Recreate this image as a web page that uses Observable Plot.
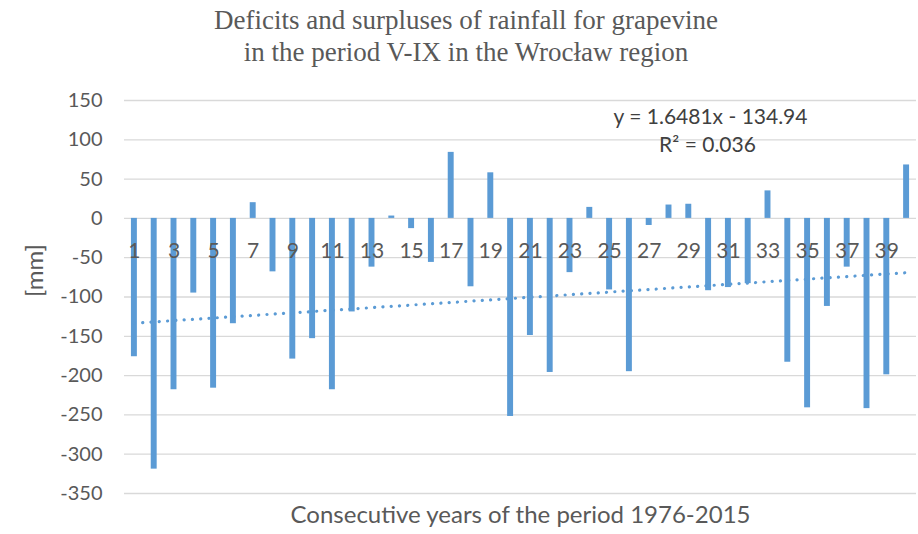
<!DOCTYPE html>
<html>
<head>
<meta charset="utf-8">
<script src="https://cdn.jsdelivr.net/npm/d3@7"></script>
<script src="https://cdn.jsdelivr.net/npm/@observablehq/plot@0.6"></script>
<style>
  html, body { margin: 0; padding: 0; background: #fff; }
  #wrap { position: relative; width: 918px; height: 534px; background: #fff; overflow: hidden; }
  #title { position: absolute; top: 4px; left: 0; width: 932px; text-align: center;
           font-family: "Liberation Serif", "DejaVu Serif", serif; font-size: 27px; line-height: 32px;
           color: #595959; }
  #chart { position: absolute; top: 80px; left: 0; }
  #chart svg { overflow: visible; }
</style>
</head>
<body>
<div id="wrap">
  <div id="title">Deficits and surpluses of rainfall for grapevine<br>in the period V-IX in the Wrocław region</div>
  <div id="chart"></div>
</div>
<script>
const years = [1,2,3,4,5,6,7,8,9,10,11,12,13,14,15,16,17,18,19,20,
               21,22,23,24,25,26,27,28,29,30,31,32,33,34,35,36,37,38,39,40];
const values = [-176,-319,-218,-95,-216,-134,20,-68,-179,-153,
                -218,-119,-62,3,-13,-56,84,-87,58,-252,
                -149,-196,-69,14,-91,-195,-9,17,18,-92,
                -88,-83,35,-183,-241,-112,-62,-242,-199,68];
const xTickLabels = [1,3,5,7,9,11,13,15,17,19,21,23,25,27,29,31,33,35,37,39];
const yTicks = [150,100,50,0,-50,-100,-150,-200,-250,-300,-350];
const trendSlope = 1.6481;
const trendIntercept = -134.94;
const equationText = "y = 1.6481x - 134.94";
const r2Text = "R² = 0.036";
const yLabel = "[mm]";
const xTitle = "Consecutive years of the period 1976-2015";

const data = years.map((yr, i) => ({year: yr, value: values[i]}));
const trend = years.map(yr => ({year: yr, value: trendSlope * yr + trendIntercept}));

const font = "Lato, 'Open Sans', sans-serif";

const chart = Plot.plot({
  width: 918,
  height: 454,
  marginTop: 20,
  marginBottom: 41,
  marginLeft: 124,
  marginRight: 2,
  style: {fontFamily: font, background: "transparent"},
  x: {type: "band", domain: years, paddingInner: 0.7, paddingOuter: 0.35, axis: null},
  y: {domain: [-350, 150], axis: null},
  marks: [
    Plot.gridY(yTicks, {stroke: "#d9d9d9", strokeOpacity: 1, strokeWidth: 1.3}),
    Plot.axisY(yTicks, {tickSize: 0, tickPadding: 22, fontSize: 20, fill: "#595959", label: null,
                        tickFormat: d => String(d)}),
    Plot.barY(data, {x: "year", y: "value", fill: "#5b9bd5"}),
    Plot.line(trend, {x: "year", y: "value", stroke: "#5b9bd5", strokeWidth: 3.2,
                      strokeDasharray: "0.1 8.2", strokeLinecap: "round"}),
    Plot.text(xTickLabels, {x: d => d, y: 0, dy: 33, fontSize: 21, fill: "#595959"}),
    Plot.text([equationText], {frameAnchor: "top-left", lineAnchor: "middle", dx: 586, dy: 17,
                               textAnchor: "middle", fontSize: 21, fill: "#404040"}),
    Plot.text([r2Text], {frameAnchor: "top-left", lineAnchor: "middle", dx: 583, dy: 45,
                         textAnchor: "middle", fontSize: 21, fill: "#404040"}),
    Plot.text([yLabel], {frameAnchor: "left", dx: -89, rotate: -90, fontSize: 24, fill: "#595959"}),
    Plot.text([xTitle], {frameAnchor: "bottom", lineAnchor: "middle", dy: 22, fontSize: 24, fill: "#595959"})
  ]
});
document.getElementById("chart").appendChild(chart);
</script>
</body>
</html>
